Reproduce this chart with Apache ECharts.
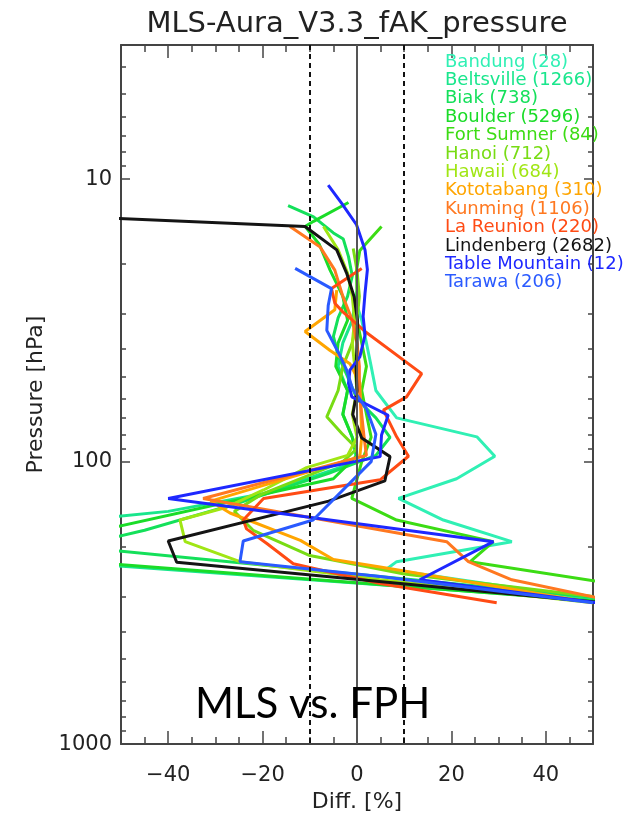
<!DOCTYPE html>
<html><head><meta charset="utf-8">
<script src="https://cdn.jsdelivr.net/npm/echarts@6/dist/echarts.min.js"></script>
<style>html,body{margin:0;padding:0;background:#fff}#c{width:626px;height:818px}</style>
</head><body><div id="c"></div>
<script>
// ---- data ----
const stations = ['Bandung','Beltsville','Biak','Boulder','Fort Sumner','Hanoi','Hawaii','Kototabang','Kunming','La Reunion','Lindenberg','Table Mountain','Tarawa'];
const profileCounts = ['28','1266','738','5296','84','712','684','310','1106','220','2682','12','206'];
const xTickLabels = [-40,-20,0,20,40];
const xMinorTicks = [-45,-35,-30,-25,-15,-10,-5,5,10,15,25,30,35,45];
const yTickLabels = [10,100,1000];
const yMinorTicks = [4,5,6,7,8,9,20,30,40,50,60,70,80,90,200,300,400,500,600,700,800,900];
const dashedRefs = [-10,10];
const solidRefs = [0];

// [diff %, pressure hPa]
const bandung = [[0,28],[1,31.6],[2,38],[3,46],[4,56],[8.4,70],[25.4,81.7],[29.2,95.7],[21.1,115],[8.8,135],[18.3,161],[32.8,192],[8.4,226],[6.3,240],[55,316]];
const beltsville = [[0,25],[-1,31.6],[-3,38],[-4,46],[-2,56],[-3,68],[-1,82],[0,100],[-20,130],[-40,150],[-80,175],[-90,215],[-70,222],[58,316]];
const biak = [[-14.6,12.4],[-9.2,13.6],[-5,15.5],[-2.9,16.3],[-1.8,18.8],[-1,22],[-2,26],[-4,31],[-5,36],[-4,42],[-2,50],[0,60],[4,70],[7,82],[4,95],[-6,110],[-25,140],[-45,175],[-60,200],[62,316]];
const boulder = [[-1.8,12.1],[-9.2,14.1],[-11,14.7],[-8,17],[-5.7,21],[-3,26],[-2,31.6],[-4,38],[-4.5,46],[-2,56],[-3,68],[-1,82],[0,95],[-5,115],[-70,200],[-75,215],[55,316]];
const fortSumner = [[5.2,14.7],[0.6,17.9],[-0.1,21],[0,26],[0,31.6],[1,38],[2,46],[1,56],[2,68],[3,82],[1,100],[-1.1,135],[8.4,161],[28.9,192],[24,226],[80,316]];
const hanoi = [[-0.8,17.6],[0,21],[0.5,26],[0,31.6],[-1,38],[-3,46],[-4,56],[-6.4,69.4],[-3.2,79.5],[0,90],[-3,100],[-20,130],[-26,150],[-22,175],[-10,215],[10,250],[50,300]];
const hawaii = [[-7.1,14.7],[-4,17.8],[-2,21.5],[-1,26],[-0.5,31.6],[-1,38],[-0.5,46],[0,56],[-1,68],[0,82],[-2,95],[-10.7,105],[-19.8,126],[-27.6,145],[-37.5,161],[-36.4,192],[-24.8,226],[4.9,262],[50,316]];
const kototabang = [[-4.3,24.7],[-4.7,29],[-11,34.6],[-5.7,40.4],[-1.5,45],[0.6,52.7],[1,81.7],[0.6,96],[-31,138],[-26.9,152],[-12,190],[-5,222],[4.9,236],[50,316]];
const kunming = [[-14.2,14.7],[-7.8,17.4],[-4.7,21],[-3,26],[-1,31.6],[0,38],[0.5,46],[0.5,56],[1,68],[1.5,82],[2,95],[-32.6,135],[19,192],[23.6,226],[32.8,262],[56,316]];
const laReunion = [[1.0,20.7],[-5.4,24.4],[-4.7,27.5],[-3,29.5],[1.7,34.6],[13.7,48.8],[10.5,59],[5.6,65.7],[8.4,81.7],[10.9,95.7],[4.9,116],[-19.8,135],[-24.1,161],[-23.4,173],[-19.1,195],[-13.5,230],[4.9,270],[29.6,316]];
const lindenberg = [[-130,12.1],[-11,14.7],[-4.3,17.8],[-2.2,21.5],[-0.6,26.1],[0.1,31.6],[0,38.3],[-0.2,46.4],[0,56.2],[-0.9,68.1],[1.0,82.5],[7.0,96],[5.9,117],[-6,138],[-40,191],[-38.2,227],[52,316]];
const tableMountain = [[-6.1,10.5],[-3.2,12.2],[-0.1,14.5],[1.7,17.8],[2.2,20.9],[1.7,25.3],[1.3,30.6],[1.7,35.7],[0.6,42.6],[-1.5,47.4],[-1.8,52.8],[-1.1,59],[6.6,68.5],[5.2,80.5],[4.9,96],[-40,135],[28.9,192],[13.3,262],[51,316]];
const tarawa = [[-13.1,20.7],[-5.4,24.4],[-6.1,28],[-6.4,34.3],[-4,40.9],[-2.2,47.3],[-1,55],[2,65],[4,80],[3,100],[-9.3,161],[-24.1,191],[-24.8,226],[4.9,255],[50,316]];

const profiles = [bandung,beltsville,biak,boulder,fortSumner,hanoi,hawaii,kototabang,kunming,laReunion,lindenberg,tableMountain,tarawa];
const colors = ['#30F0B4','#19E68C','#14E05A','#1ADC28','#3CDC14','#78DC14','#A0E614','#FFA500','#FF7820','#FF4B14','#141414','#1E28FF','#2A5AFF'];

// ---- chart ----
const FONT = 'DejaVu Sans';
const AXC = '#444';
const minus = v => String(v).replace('-', '\u2212');
function xAx(pos, major, withLabel) {
  return {
    type:'value', position:pos, min:-50, max:50, gridIndex:0,
    axisLine:{show:major, onZero:false, lineStyle:{color:AXC, width:2}},
    axisTick:{show:true, inside:true, length: major?13:7, customValues: major?xTickLabels:xMinorTicks, lineStyle:{color:AXC, width:1.5}},
    axisLabel:{show:withLabel, customValues:xTickLabels, formatter:minus, fontFamily:FONT, fontSize:21, color:'#222', margin:21},
    splitLine:{show:false},
    name: withLabel ? 'Diff. [%]' : '', nameLocation:'middle', nameGap:46,
    nameTextStyle:{fontFamily:FONT, fontSize:22, color:'#222'}
  };
}
function yAx(pos, major, withLabel) {
  return {
    type:'log', logBase:10, position:pos, min:3.35, max:1000, inverse:true, gridIndex:0,
    axisLine:{show:major, onZero:false, lineStyle:{color:AXC, width:2}},
    axisTick:{show:true, inside:true, length: major?9:5, customValues: major?yTickLabels:yMinorTicks, lineStyle:{color:AXC, width:1.5}},
    axisLabel:{show:withLabel, customValues:yTickLabels, formatter:v=>String(Math.round(v)), fontFamily:FONT, fontSize:21, color:'#222', margin:9},
    splitLine:{show:false}, minorTick:{show:false},
    name: withLabel ? 'Pressure [hPa]' : '', nameLocation:'middle', nameGap:74, nameRotate:90,
    nameTextStyle:{fontFamily:FONT, fontSize:22, color:'#222'}
  };
}

const series = [{
  type:'line', data:[], xAxisIndex:0, yAxisIndex:0, z:1, silent:true,
  markLine:{silent:true, symbol:'none', animation:false, label:{show:false},
    data: dashedRefs.map(v=>({xAxis:v, lineStyle:{type:[5,4], color:'#111', width:2}}))
      .concat(solidRefs.map(v=>({xAxis:v, lineStyle:{type:'solid', color:'#555', width:2}})))}
}];
stations.forEach((s,i)=>{
  series.push({
    type:'line', name: s+' ('+profileCounts[i]+')', data: profiles[i], xAxisIndex:0, yAxisIndex:0,
    symbol:'none', showSymbol:false, clip:true, z:3,
    lineStyle:{color:colors[i], width:3}, itemStyle:{color:colors[i]}
  });
});

const chart = echarts.init(document.getElementById('c'), null, {renderer:'canvas'});
chart.setOption({
  animation:false,
  backgroundColor:'#fff',
  grid:{left:121, right:33, top:45, bottom:72, containLabel:false},
  xAxis:[xAx('bottom',true,true), xAx('bottom',false,false), xAx('top',true,false), xAx('top',false,false)],
  yAxis:[yAx('left',true,true), yAx('left',false,false), yAx('right',true,false), yAx('right',false,false)],
  legend:{orient:'vertical', left:440, top:53, padding:0, itemGap:0.4, itemWidth:0, itemHeight:10, icon:'none',
    data: stations.map((s,i)=>({name:s+' ('+profileCounts[i]+')', textStyle:{color:colors[i]}})),
    textStyle:{fontFamily:FONT, fontSize:18, lineHeight:18}, selectedMode:false},
  graphic:[
    {type:'text', style:{text:'MLS-Aura_V3.3_fAK_pressure', x:357, y:24, align:'center', verticalAlign:'middle', font:'29px "DejaVu Sans"', fill:'#222'}},
    {type:'text', style:{text:'MLS vs. FPH', x:195, y:704, align:'left', verticalAlign:'middle', font:'42px Lato', fill:'#000'}, z:10}
  ],
  series: series
});
</script></body></html>
